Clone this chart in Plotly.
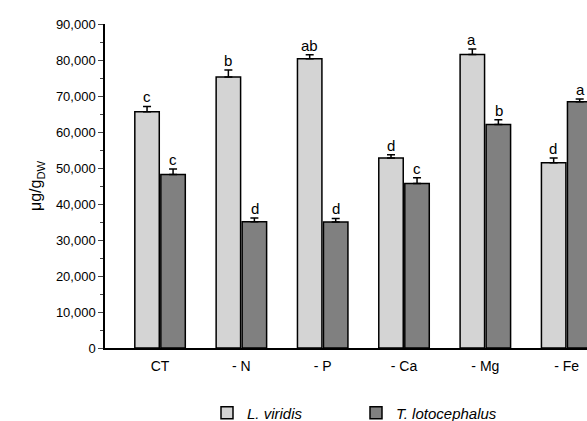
import plotly.graph_objects as go

categories = ["CT", "- N", "- P", "- Ca", "- Mg", "- Fe"]
viridis_vals = [65600, 75300, 80350, 52800, 81550, 51450]
viridis_err = [1500, 1900, 1100, 900, 1500, 1300]
viridis_letters = ["c", "b", "ab", "d", "a", "d"]
loto_vals = [48200, 35100, 35000, 45700, 62100, 68400]
loto_err = [1500, 1000, 1000, 1600, 1300, 800]
loto_letters = ["c", "d", "d", "c", "b", "a"]
y_ticks = list(range(0, 90001, 10000))

FONT = "Arial, 'Liberation Sans', sans-serif"

fig = go.Figure()
fig.add_trace(go.Bar(
    x=categories, y=viridis_vals, name="<i>L. viridis</i>",
    marker=dict(color="#d4d4d4", line=dict(color="black", width=1.5)),
    error_y=dict(type="data", array=viridis_err, arrayminus=[0]*6, symmetric=False,
                 color="black", thickness=1.5, width=4),
))
fig.add_trace(go.Bar(
    x=categories, y=loto_vals, name="<i>T. lotocephalus</i>",
    marker=dict(color="#808080", line=dict(color="black", width=1.5)),
    error_y=dict(type="data", array=loto_err, arrayminus=[0]*6, symmetric=False,
                 color="black", thickness=1.5, width=4),
))

off = 0.165
for i in range(len(categories)):
    fig.add_annotation(x=i - off, y=viridis_vals[i] + viridis_err[i], text=viridis_letters[i],
                       showarrow=False, yanchor="bottom", yshift=-1,
                       font=dict(family=FONT, size=15, color="black"))
    fig.add_annotation(x=i + off, y=loto_vals[i] + loto_err[i], text=loto_letters[i],
                       showarrow=False, yanchor="bottom", yshift=-1,
                       font=dict(family=FONT, size=15, color="black"))

fig.update_layout(
    width=587, height=421,
    margin=dict(l=105, r=0, t=24, b=73, autoexpand=False),
    paper_bgcolor="white", plot_bgcolor="white",
    barmode="group", bargap=0.36, bargroupgap=0.06,
    font=dict(family=FONT, size=13, color="black"),
    showlegend=True,
    legend=dict(orientation="h", xref="container", x=207/587, xanchor="left",
                yref="container", y=8/421, yanchor="middle",
                font=dict(family=FONT, size=15), tracegroupgap=0,
                entrywidth=104, bgcolor="rgba(0,0,0,0)"),
    xaxis=dict(type="category", range=[-0.677, 5.25], showline=True, linecolor="black",
               linewidth=1.5, ticks="", tickfont=dict(size=14), showgrid=False,
               ticklabelstandoff=4),
    yaxis=dict(range=[0, 90000], tickvals=y_ticks, tickformat=",", showline=True,
               linecolor="black", linewidth=1.5, ticks="outside", ticklen=5, tickwidth=1,
               showgrid=False, zeroline=False, tickfont=dict(size=13),
               minor=dict(ticks="outside", ticklen=3, dtick=5000, tickwidth=1, showgrid=False),
               title=dict(text="μg/g<sub>DW</sub>", font=dict(size=16), standoff=10)),
)

fig.write_html("out.html")
